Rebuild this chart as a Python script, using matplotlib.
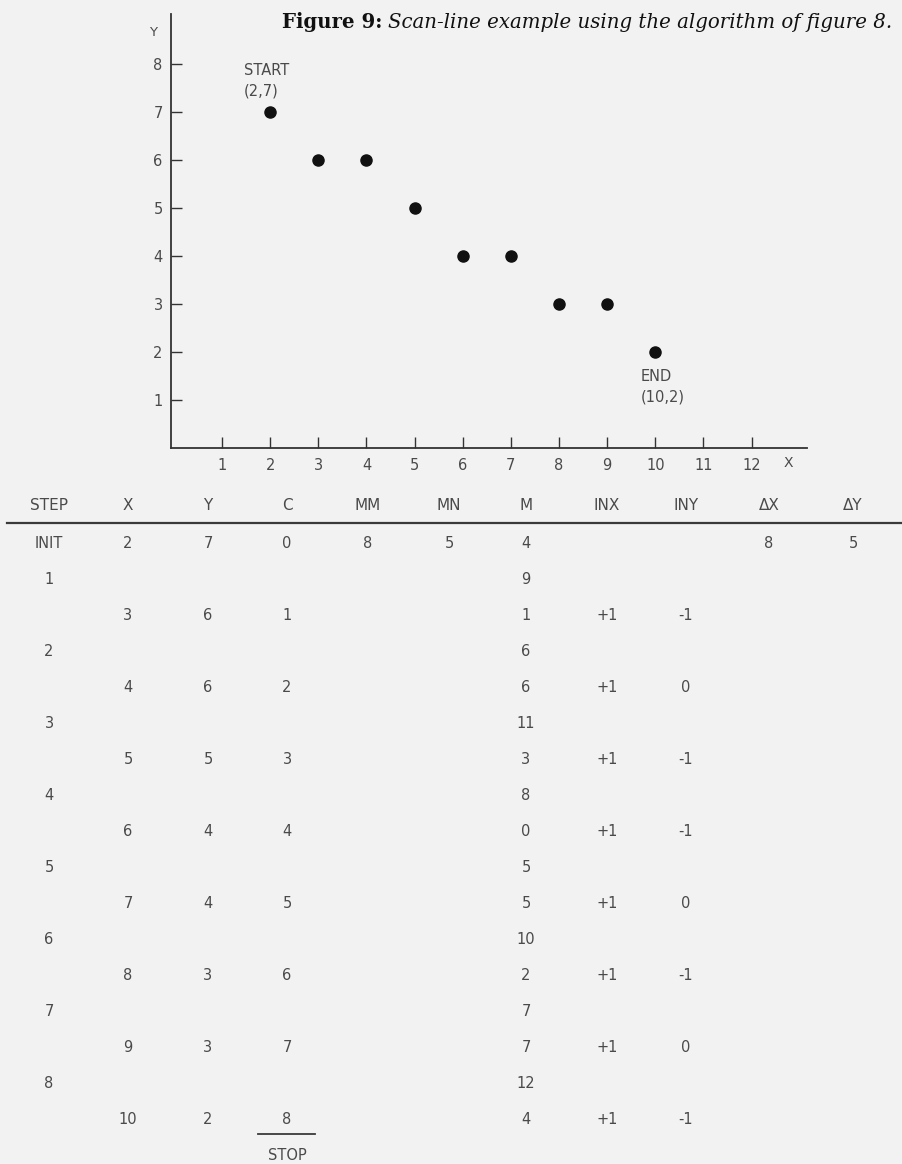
import matplotlib
matplotlib.use('Agg')
import matplotlib.pyplot as plt

# points of the scan line
PX = [2, 3, 4, 5, 6, 7, 8, 9, 10]
PY = [7, 6, 6, 5, 4, 4, 3, 3, 2]
XTICKS = list(range(1, 13))
YTICKS = list(range(1, 9))

# table of the algorithm steps
HEADERS = ['STEP', 'X', 'Y', 'C', 'MM', 'MN', 'M', 'INX', 'INY', 'ΔX', 'ΔY']
STEP_COL = ['INIT', '1', '', '2', '', '3', '', '4', '', '5', '', '6', '', '7', '', '8', '']
X_COL = ['2', '', '3', '', '4', '', '5', '', '6', '', '7', '', '8', '', '9', '', '10']
Y_COL = ['7', '', '6', '', '6', '', '5', '', '4', '', '4', '', '3', '', '3', '', '2']
C_COL = ['0', '', '1', '', '2', '', '3', '', '4', '', '5', '', '6', '', '7', '', '8']
MM_COL = ['8'] + [''] * 16
MN_COL = ['5'] + [''] * 16
M_COL = ['4', '9', '1', '6', '6', '11', '3', '8', '0', '5', '5', '10', '2', '7', '7', '12', '4']
INX_COL = ['', '', '+1', '', '+1', '', '+1', '', '+1', '', '+1', '', '+1', '', '+1', '', '+1']
INY_COL = ['', '', '-1', '', '0', '', '-1', '', '-1', '', '0', '', '-1', '', '0', '', '-1']
DX_COL = ['8'] + [''] * 16
DY_COL = ['5'] + [''] * 16

W, H = 902, 1164
BG = '#f2f2f2'
INK = '#4a4a4a'
FONT = ['DejaVu Sans']

fig = plt.figure(figsize=(W / 100, H / 100), dpi=100, facecolor=BG)

# ---- plot part
ax = fig.add_axes([171 / W, 1 - 448 / H, (807 - 171) / W, (448 - 14) / H])
ax.set_facecolor('none')
ax.set_xlim(-0.06, 13.15)
ax.set_ylim(-0.01, 9.05)
for s in ['top', 'right']:
    ax.spines[s].set_visible(False)
for s in ['left', 'bottom']:
    ax.spines[s].set_color('#333333')
    ax.spines[s].set_linewidth(1.3)
ax.set_xticks(XTICKS)
ax.set_yticks(YTICKS)
ax.tick_params(axis='both', direction='in', length=8, width=1.0, color='#333333',
               labelcolor=INK, labelsize=10.5)
ax.tick_params(axis='x', pad=7)
ax.tick_params(axis='y', pad=6)

ax.plot(PX, PY, 'o', color='#111111', ms=8, ls='none')

ax.annotate('START\n(2,7)', xy=(PX[0], PY[0]), xytext=(-26, 49), textcoords='offset pixels',
            ha='left', va='top', fontsize=10.5, color=INK, linespacing=1.45, family=FONT)
ax.annotate('END\n(10,2)', xy=(PX[-1], PY[-1]), xytext=(-15, -17), textcoords='offset pixels',
            ha='left', va='top', fontsize=10.5, color=INK, linespacing=1.45, family=FONT)

# axis names
fig.text(153 / W, 1 - 33 / H, 'Y', ha='center', va='center', fontsize=9.5, color=INK)
fig.text(788 / W, 1 - 463 / H, 'X', ha='center', va='center', fontsize=10, color=INK)

# ---- title
t1 = fig.text(282 / W, 1 - 22 / H, 'Figure 9:', ha='left', va='center', fontsize=14.2,
              fontweight='bold', family='DejaVu Serif', color='#111111')
fig.canvas.draw()
bb = t1.get_window_extent()
fig.text(bb.x1 / W + 5 / W, 1 - 22 / H, 'Scan-line example using the algorithm of figure 8.',
         ha='left', va='center', fontsize=14.2, style='italic', family='DejaVu Serif',
         color='#111111')

# ---- table part
tab = fig.add_axes([0, 0, 1, 1])
tab.set_xlim(0, W)
tab.set_ylim(H, 0)
tab.axis('off')
tab.patch.set_alpha(0)

col_x = [49, 128, 208, 287, 368, 449, 526, 607, 686, 769, 853]
cols = [STEP_COL, X_COL, Y_COL, C_COL, MM_COL, MN_COL, M_COL, INX_COL, INY_COL, DX_COL, DY_COL]

for cx, h in zip(col_x, HEADERS):
    tab.text(cx, 505, h, ha='center', va='center', fontsize=11, color=INK, family=FONT)
tab.plot([7, W], [523, 523], color='#3a3a3a', lw=1.6)

row0, dy = 543, 36
for cx, col in zip(col_x, cols):
    for i, v in enumerate(col):
        if v:
            tab.text(cx, row0 + i * dy, v, ha='center', va='center', fontsize=10.5,
                     color=INK, family=FONT)

# stop mark under the last C
tab.plot([258, 315], [1134, 1134], color='#3a3a3a', lw=1.3)
tab.text(287, 1155, 'STOP', ha='center', va='center', fontsize=10.5, color=INK, family=FONT)

fig.savefig('out.png', dpi=100, facecolor=BG)
